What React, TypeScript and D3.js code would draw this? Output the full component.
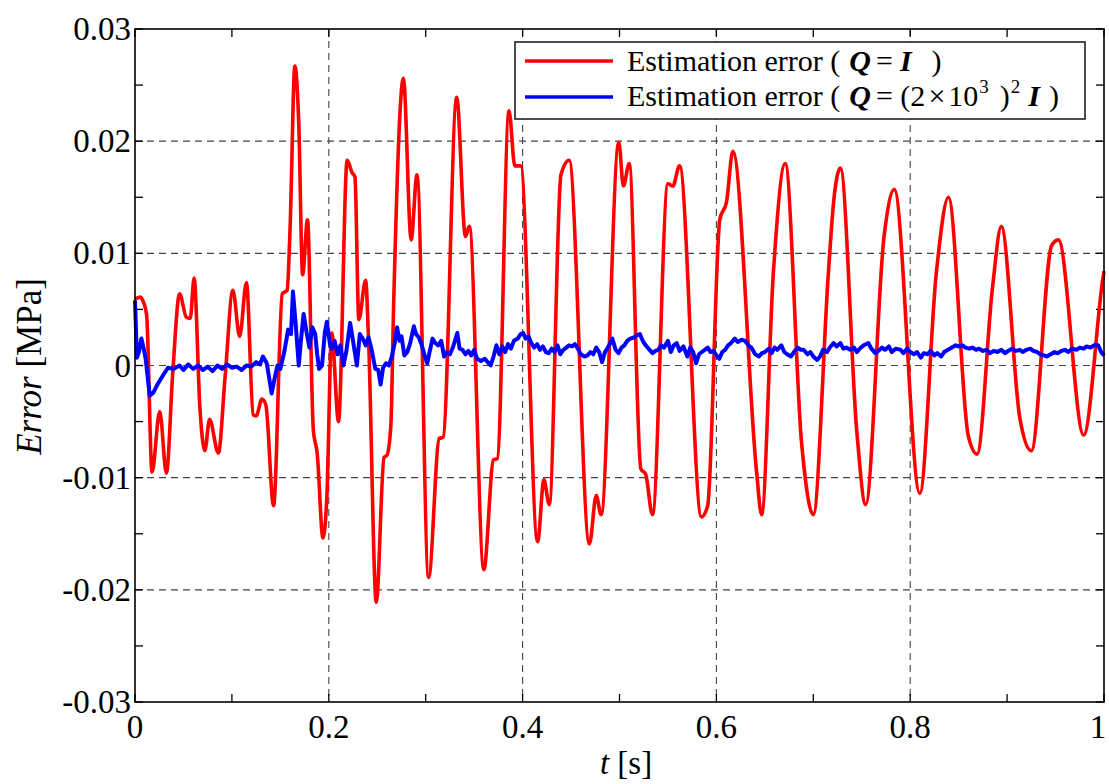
import React from "react";
import * as d3 from "d3";

const W = 1109;
const H = 784;
const M = { left: 135, right: 1104, top: 29, bottom: 702 };

const xTicks = [0, 0.2, 0.4, 0.6, 0.8, 1];
const xTickLabels = ["0", "0.2", "0.4", "0.6", "0.8", "1"];
const xMinorTicks = [0, 0.1, 0.2, 0.3, 0.4, 0.5, 0.6, 0.7, 0.8, 0.9, 1];
const yTicks = [-0.03, -0.02, -0.01, 0, 0.01, 0.02, 0.03];
const yTickLabels = ["-0.03", "-0.02", "-0.01", "0", "0.01", "0.02", "0.03"];
const yMinorTicks = [-0.03, -0.025, -0.02, -0.015, -0.01, -0.005, 0, 0.005, 0.01, 0.015, 0.02, 0.025, 0.03];

const seriesNames = ["Estimation error ( Q = I )", "Estimation error ( Q = (2×10^3)^2 I )"];
const seriesColors = ["#ff0000", "#0000ff"];

// Red: Q = I  [t (s), error (MPa)]
const redPoints: [number, number][] = [
  [0.000, 0.0059], [0.005, 0.0061], [0.008, 0.0058], [0.012, 0.0045], [0.0176, -0.0095],
  [0.0255, -0.0041], [0.0324, -0.0096], [0.039, -0.0006], [0.046, 0.0064], [0.053, 0.0043],
  [0.057, 0.0042], [0.061, 0.0078], [0.067, -0.0038], [0.072, -0.0076], [0.077, -0.0048],
  [0.086, -0.0078], [0.093, -0.001], [0.101, 0.0067], [0.108, 0.0026], [0.115, 0.0074],
  [0.122, -0.0044], [0.125, -0.0045], [0.131, -0.003], [0.135, -0.0035], [0.143, -0.0125],
  [0.152, 0.0064], [0.157, 0.0067], [0.160, 0.0121], [0.165, 0.0267], [0.169, 0.0216],
  [0.173, 0.0081], [0.178, 0.013], [0.184, -0.0057], [0.188, -0.0078], [0.194, -0.0154],
  [0.198, -0.0117], [0.203, 0.0029], [0.210, -0.005], [0.219, 0.0183], [0.224, 0.0172],
  [0.227, 0.0168], [0.231, 0.0041], [0.238, 0.0076], [0.241, 0.0024], [0.249, -0.0211],
  [0.257, -0.0082], [0.260, -0.008], [0.264, -0.0054], [0.267, 0.0057], [0.277, 0.0256],
  [0.285, 0.0112], [0.291, 0.017], [0.303, -0.0189], [0.314, -0.0065], [0.318, -0.0064],
  [0.332, 0.0239], [0.341, 0.0115], [0.345, 0.0124], [0.360, -0.0182], [0.370, -0.0084],
  [0.374, -0.0083], [0.386, 0.0227], [0.392, 0.0178], [0.398, 0.0178], [0.4155, -0.0157],
  [0.422, -0.0102], [0.4275, -0.0124], [0.4396, 0.017], [0.448, 0.0183], [0.469, -0.0159],
  [0.476, -0.0116], [0.481, -0.0133], [0.4993, 0.0199], [0.504, 0.016], [0.510, 0.018],
  [0.522, -0.0092], [0.527, -0.0097], [0.534, -0.0133], [0.550, 0.0162], [0.555, 0.016],
  [0.562, 0.0178], [0.5846, -0.0135], [0.591, -0.0125], [0.6035, 0.013], [0.6105, 0.0146],
  [0.617, 0.0191], [0.6415, -0.0095], [0.6466, -0.0133], [0.6588, 0.0083], [0.671, 0.018],
  [0.688, -0.007], [0.700, -0.0133], [0.7156, 0.0083], [0.721, 0.0146], [0.728, 0.0176],
  [0.745, -0.006], [0.754, -0.0124], [0.773, 0.0115], [0.7836, 0.0157], [0.8099, -0.0114],
  [0.827, 0.0083], [0.8395, 0.015], [0.860, -0.0063], [0.869, -0.0079], [0.885, 0.007],
  [0.894, 0.0124], [0.913, -0.0046], [0.925, -0.0076], [0.946, 0.0107], [0.953, 0.0112],
  [0.979, -0.0062], [0.9986, 0.0076], [1.0, 0.0084],
];

// Blue: Q = (2x10^3)^2 I  [t (s), error (MPa)]
const bluePoints: [number, number][] = [
  [0.000, 0.0058], [0.002, 0.0007], [0.004, 0.0012], [0.0066, 0.0024], [0.009, 0.0015],
  [0.011, 0.0006], [0.0152, -0.0027], [0.019, -0.0024], [0.0238, -0.0016], [0.028, -0.001],
  [0.034, -0.0002], [0.040, -0.0003], [0.046, 0.0], [0.050, -0.0004], [0.055, 0.0001],
  [0.060, -0.0003], [0.065, 0.0], [0.070, -0.0004], [0.075, -0.0001], [0.080, -0.0005],
  [0.085, 0.0], [0.090, -0.0003], [0.095, 0.0001], [0.100, -0.0002], [0.105, -0.0001],
  [0.110, -0.0004], [0.115, 0.0], [0.120, -0.0001], [0.125, 0.0003], [0.129, 0.0001],
  [0.132, 0.0008], [0.136, 0.0002], [0.141, -0.0025], [0.144, -0.0012], [0.147, 0.0],
  [0.150, -0.0003], [0.154, 0.0012], [0.158, 0.0032], [0.161, 0.0028], [0.163, 0.0066],
  [0.166, 0.0035], [0.169, 0.0], [0.171, 0.002], [0.174, 0.0046], [0.177, 0.003],
  [0.180, 0.0016], [0.183, 0.0034], [0.186, 0.0028], [0.188, 0.001], [0.190, -0.0003],
  [0.193, 0.0], [0.196, 0.003], [0.198, 0.0039], [0.201, 0.002], [0.203, 0.0015],
  [0.206, 0.0022], [0.209, 0.001], [0.212, 0.0018], [0.215, 0.0], [0.218, 0.0012],
  [0.222, 0.0038], [0.225, 0.0022], [0.229, 0.0], [0.232, 0.0028], [0.235, 0.0024],
  [0.238, 0.0018], [0.241, 0.0025], [0.244, 0.0015], [0.248, -0.0003], [0.251, -0.0004],
  [0.2535, -0.0017], [0.256, -0.0002], [0.259, 0.0002], [0.262, 0.0], [0.265, 0.0008],
  [0.268, 0.002], [0.2705, 0.0034], [0.273, 0.0022], [0.275, 0.0026], [0.278, 0.0009],
  [0.281, 0.0012], [0.284, 0.002], [0.2878, 0.0035], [0.290, 0.0028], [0.293, 0.0025],
  [0.296, 0.0018], [0.2985, 0.001], [0.3016, 0.0002], [0.304, 0.0012], [0.307, 0.0024],
  [0.310, 0.002], [0.313, 0.0018], [0.316, 0.0022], [0.319, 0.0008], [0.322, 0.0012],
  [0.325, 0.001], [0.328, 0.0016], [0.3326, 0.0029], [0.335, 0.0015], [0.338, 0.0014],
  [0.341, 0.001], [0.344, 0.0013], [0.347, 0.0009], [0.350, 0.0014], [0.353, 0.0006],
  [0.357, 0.0004], [0.361, 0.0006], [0.364, 0.0003], [0.367, 0.0], [0.370, 0.0008],
  [0.373, 0.0018], [0.376, 0.001], [0.379, 0.0017], [0.382, 0.0012], [0.385, 0.0019],
  [0.388, 0.0015], [0.391, 0.0022], [0.395, 0.0024], [0.398, 0.0028], [0.4006, 0.0029],
  [0.403, 0.0024], [0.406, 0.0026], [0.409, 0.002], [0.412, 0.0016], [0.415, 0.0019],
  [0.418, 0.0014], [0.421, 0.0017], [0.424, 0.0012], [0.427, 0.0011], [0.430, 0.0015],
  [0.433, 0.0012], [0.436, 0.0018], [0.439, 0.001], [0.442, 0.0014], [0.445, 0.0016],
  [0.448, 0.0018], [0.451, 0.0017], [0.454, 0.0019], [0.457, 0.0015], [0.460, 0.001],
  [0.4638, 0.0008], [0.467, 0.0009], [0.470, 0.0012], [0.473, 0.001], [0.476, 0.0016],
  [0.479, 0.0012], [0.482, 0.0003], [0.485, 0.0012], [0.488, 0.0016], [0.4926, 0.0024],
  [0.496, 0.0014], [0.499, 0.0011], [0.502, 0.0016], [0.505, 0.0018], [0.508, 0.0022],
  [0.511, 0.0024], [0.515, 0.0025], [0.518, 0.0027], [0.521, 0.0028], [0.524, 0.0022],
  [0.527, 0.0018], [0.530, 0.0015], [0.534, 0.0011], [0.537, 0.0013], [0.540, 0.0014],
  [0.543, 0.0018], [0.546, 0.0016], [0.550, 0.0022], [0.553, 0.0012], [0.556, 0.0018],
  [0.559, 0.002], [0.562, 0.0013], [0.566, 0.0017], [0.570, 0.0008], [0.573, 0.0016],
  [0.576, 0.0012], [0.579, 0.0002], [0.582, 0.001], [0.585, 0.0012], [0.588, 0.0014],
  [0.591, 0.0016], [0.594, 0.0012], [0.597, 0.0013], [0.600, 0.0009], [0.603, 0.0006],
  [0.606, 0.0012], [0.609, 0.0014], [0.612, 0.0018], [0.615, 0.002], [0.619, 0.0024],
  [0.622, 0.0021], [0.626, 0.0023], [0.6295, 0.0022], [0.633, 0.0018], [0.636, 0.0016],
  [0.640, 0.001], [0.644, 0.0008], [0.647, 0.0011], [0.650, 0.0012], [0.654, 0.0015],
  [0.657, 0.0011], [0.660, 0.0016], [0.663, 0.0014], [0.667, 0.0018], [0.670, 0.0012],
  [0.673, 0.001], [0.677, 0.0008], [0.680, 0.0012], [0.684, 0.0016], [0.687, 0.0014],
  [0.690, 0.0014], [0.694, 0.001], [0.697, 0.0012], [0.700, 0.0008], [0.704, 0.0005],
  [0.707, 0.0008], [0.710, 0.0014], [0.714, 0.0012], [0.717, 0.0016], [0.721, 0.002],
  [0.724, 0.0017], [0.728, 0.002], [0.731, 0.0015], [0.734, 0.0016], [0.738, 0.0014],
  [0.742, 0.0016], [0.745, 0.0012], [0.749, 0.0016], [0.752, 0.0018], [0.7568, 0.002],
  [0.760, 0.0015], [0.764, 0.0011], [0.767, 0.0013], [0.771, 0.0016], [0.774, 0.0014],
  [0.778, 0.0017], [0.781, 0.0012], [0.785, 0.0015], [0.790, 0.0014], [0.793, 0.0011],
  [0.797, 0.0015], [0.800, 0.0012], [0.804, 0.001], [0.807, 0.0012], [0.811, 0.0007],
  [0.814, 0.0011], [0.818, 0.001], [0.821, 0.0013], [0.825, 0.0009], [0.828, 0.0011],
  [0.832, 0.0008], [0.835, 0.0012], [0.839, 0.0014], [0.843, 0.0016], [0.847, 0.0018],
  [0.850, 0.0017], [0.854, 0.0018], [0.857, 0.0016], [0.861, 0.0015], [0.864, 0.0016],
  [0.868, 0.0014], [0.871, 0.0015], [0.875, 0.0013], [0.879, 0.0014], [0.882, 0.0011],
  [0.886, 0.0013], [0.890, 0.0012], [0.894, 0.0014], [0.898, 0.0011], [0.901, 0.0013],
  [0.905, 0.0015], [0.909, 0.0013], [0.913, 0.0014], [0.916, 0.0012], [0.920, 0.0014],
  [0.924, 0.0015], [0.927, 0.0013], [0.931, 0.0012], [0.934, 0.001], [0.938, 0.0009],
  [0.941, 0.0008], [0.945, 0.001], [0.949, 0.0012], [0.952, 0.0011], [0.956, 0.0013],
  [0.960, 0.0014], [0.963, 0.0012], [0.967, 0.0015], [0.9716, 0.0014], [0.975, 0.0016],
  [0.979, 0.0015], [0.982, 0.0017], [0.986, 0.0016], [0.990, 0.0018], [0.994, 0.0018],
  [0.997, 0.0012], [1.0, 0.0009],
];

const FONT = "'Liberation Serif', 'Times New Roman', serif";

export default function App() {
  const x = d3.scaleLinear().domain([0, 1]).range([M.left, M.right]);
  const y = d3.scaleLinear().domain([-0.03, 0.03]).range([M.bottom, M.top]);

  const redLine = d3
    .line<[number, number]>()
    .x((d) => x(d[0]))
    .y((d) => y(d[1]))
    .curve(d3.curveMonotoneX);
  const blueLine = d3
    .line<[number, number]>()
    .x((d) => x(d[0]))
    .y((d) => y(d[1]));

  const tickLen = 8;
  const legX = 515;
  const legY = 42;

  return (
    <svg
      width={W}
      height={H}
      style={{ position: "absolute", left: 0, top: 0, background: "#fff" }}
      fontFamily={FONT}
    >
      <rect x={0} y={0} width={W} height={H} fill="#fff" />
      {/* grid */}
      <g stroke="#444" strokeWidth={1.1} strokeDasharray="7,5">
        {xTicks.slice(1, -1).map((t) => (
          <line key={"gx" + t} x1={x(t)} x2={x(t)} y1={M.top} y2={M.bottom} />
        ))}
        {yTicks.slice(1, -1).map((v) => (
          <line key={"gy" + v} x1={M.left} x2={M.right} y1={y(v)} y2={y(v)} />
        ))}
      </g>
      {/* ticks */}
      <g stroke="#000" strokeWidth={1.3}>
        {xMinorTicks.map((t) => (
          <g key={"tx" + t}>
            <line x1={x(t)} x2={x(t)} y1={M.bottom} y2={M.bottom - tickLen} />
            <line x1={x(t)} x2={x(t)} y1={M.top} y2={M.top + tickLen} />
          </g>
        ))}
        {yMinorTicks.map((v) => (
          <g key={"ty" + v}>
            <line x1={M.left} x2={M.left + tickLen} y1={y(v)} y2={y(v)} />
            <line x1={M.right} x2={M.right - tickLen} y1={y(v)} y2={y(v)} />
          </g>
        ))}
      </g>
      {/* series */}
      <path d={redLine(redPoints) || ""} fill="none" stroke={seriesColors[0]} strokeWidth={3.6} strokeLinejoin="round" />
      <path d={blueLine(bluePoints) || ""} fill="none" stroke={seriesColors[1]} strokeWidth={4} strokeLinejoin="round" />
      {/* frame */}
      <rect x={M.left} y={M.top} width={M.right - M.left} height={M.bottom - M.top} fill="none" stroke="#000" strokeWidth={1.6} />
      {/* tick labels */}
      <g fontSize={33} fill="#000">
        {xTicks.map((t, i) => (
          <text key={"lx" + t} x={Math.min(x(t), 1098)} y={738} textAnchor="middle">
            {xTickLabels[i]}
          </text>
        ))}
        {yTicks.map((v, i) => (
          <text key={"ly" + v} x={131} y={y(v) + 11} textAnchor="end">
            {yTickLabels[i]}
          </text>
        ))}
      </g>
      {/* axis titles */}
      <text x={626} y={774} textAnchor="middle" fontSize={33}>
        <tspan fontStyle="italic">t</tspan> [s]
      </text>
      <text transform={`translate(41, ${(M.top + M.bottom) / 2 + 1}) rotate(-90)`} textAnchor="middle" fontSize={35}>
        <tspan fontStyle="italic">Error</tspan> [MPa]
      </text>
      {/* legend */}
      <g>
        <rect x={legX} y={legY} width={570} height={77} fill="#fff" stroke="#222" strokeWidth={1.6} />
        <line x1={legX + 10} x2={legX + 98} y1={legY + 19} y2={legY + 19} stroke={seriesColors[0]} strokeWidth={3.6} />
        <line x1={legX + 10} x2={legX + 98} y1={legY + 55} y2={legY + 55} stroke={seriesColors[1]} strokeWidth={3.6} />
        <text x={legX + 112} y={legY + 29} fontSize={30} aria-label={seriesNames[0]}>
          Estimation error (
          <tspan fontWeight="bold" fontStyle="italic" dx={9}>Q</tspan>
          <tspan dx={5}>=</tspan>
          <tspan fontWeight="bold" fontStyle="italic" dx={7}>I</tspan>
          <tspan dx={20}>)</tspan>
        </text>
        <text x={legX + 112} y={legY + 64} fontSize={30} aria-label={seriesNames[1]}>
          Estimation error (
          <tspan fontWeight="bold" fontStyle="italic" dx={9}>Q</tspan>
          <tspan dx={5}>= (2</tspan>
          <tspan dx={3}>×</tspan>
          <tspan dx={3}>10</tspan>
          <tspan fontSize={19} dy={-13} dx={1}>3</tspan>
          <tspan dx={11} dy={13}>)</tspan>
          <tspan fontSize={19} dy={-13} dx={1}>2</tspan>
          <tspan fontWeight="bold" fontStyle="italic" dx={8} dy={13}>I</tspan>
          <tspan dx={9}>)</tspan>
        </text>
      </g>
    </svg>
  );
}
